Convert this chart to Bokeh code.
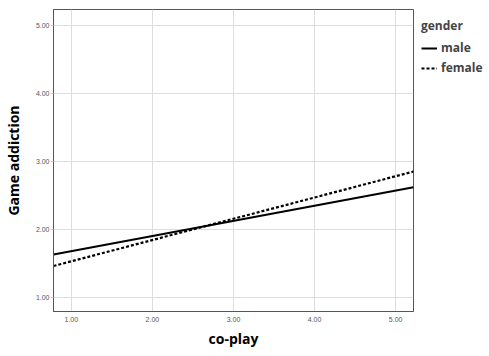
from bokeh.plotting import figure
from bokeh.models import Range1d, Legend, LegendItem, FixedTicker
from bokeh.embed import file_html
from bokeh.resources import INLINE

# data: fitted lines at frame edges
x_ends = [0.78, 5.22]
male_y = [1.63, 2.62]
female_y = [1.46, 2.85]
ticks = [1, 2, 3, 4, 5]
tick_labels = {1: "1.00", 2: "2.00", 3: "3.00", 4: "4.00", 5: "5.00"}

p = figure(frame_width=360, frame_height=302, output_backend="svg", toolbar_location=None,
           x_range=Range1d(0.78, 5.22), y_range=Range1d(0.79, 5.235),
           min_border_left=40, min_border_right=0, min_border_top=9, min_border_bottom=30)

r_m = p.line(x_ends, male_y, line_color="black", line_width=2)
r_f = p.line(x_ends, female_y, line_color="black", line_width=2.2, line_dash="3 2")

p.outline_line_color = "#555555"
p.outline_line_width = 1
for ax in (p.xaxis[0], p.yaxis[0]):
    ax.ticker = FixedTicker(ticks=ticks)
    ax.major_label_overrides = tick_labels
    ax.minor_tick_line_color = None
    ax.major_tick_in = 0
    ax.axis_line_color = "#555555"
    ax.major_label_text_font = "Liberation Sans"
    ax.major_label_text_font_size = "7px"
    ax.major_label_text_color = "#555555"
    ax.axis_label_text_font = "Open Sans"
    ax.axis_label_text_font_style = "bold"
    ax.axis_label_text_font_size = "14px"
    ax.axis_label_text_color = "black"

p.xaxis.axis_label = "co-play"
p.yaxis.axis_label = "Game addiction"
p.xaxis.major_tick_line_color = None
p.xaxis.major_tick_out = 0
p.xaxis.major_label_standoff = 5
p.xaxis.axis_label_standoff = 4
p.yaxis.major_tick_line_color = "#cccccc"
p.yaxis.major_tick_out = 3
p.yaxis.major_label_standoff = 1
p.yaxis.axis_label_standoff = 10

p.xgrid.ticker = FixedTicker(ticks=ticks)
p.ygrid.ticker = FixedTicker(ticks=ticks)
p.grid.grid_line_color = "#dddddd"
p.grid.grid_line_width = 1

legend = Legend(items=[LegendItem(label="male", renderers=[r_m]),
                       LegendItem(label="female", renderers=[r_f])],
                title="gender", location="top_left")
legend.title_text_font = "Open Sans"
legend.title_text_font_style = "bold"
legend.title_text_font_size = "12px"
legend.label_text_font = "Open Sans"
legend.label_text_font_style = "bold"
legend.label_text_font_size = "12px"
legend.border_line_color = None
legend.background_fill_alpha = 0
legend.glyph_width = 16
legend.glyph_height = 12
legend.label_standoff = 4
legend.spacing = 3
legend.padding = 2
legend.margin = 8
legend.title_standoff = 5
legend.label_height = 12
p.add_layout(legend, "right")

open("out.html", "w").write(file_html(p, INLINE))
